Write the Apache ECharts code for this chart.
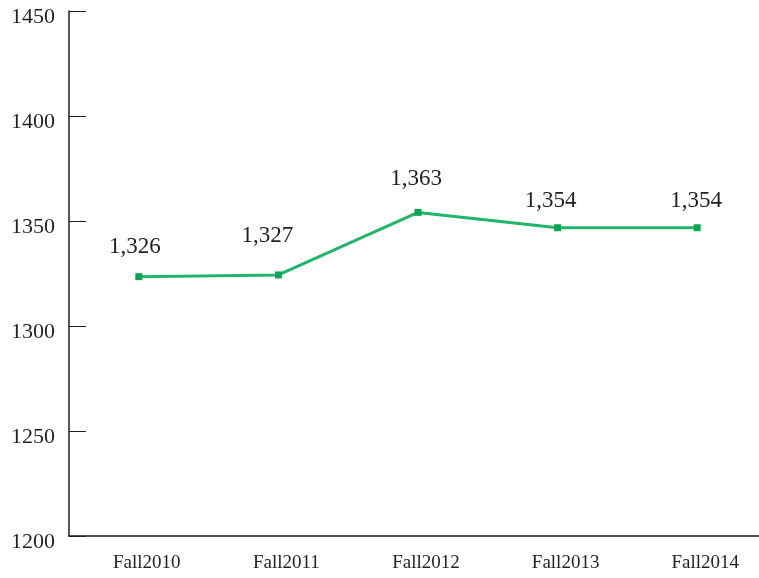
<!DOCTYPE html>
<html>
<head>
<meta charset="utf-8">
<script src="https://cdn.jsdelivr.net/npm/echarts@6/dist/echarts.min.js"></script>
<style>
  html, body { margin: 0; padding: 0; background: #fff; }
  #chart { width: 759px; height: 578px; }
</style>
</head>
<body>
<div id="chart"></div>
<script>
var categories = ['Fall2010', 'Fall2011', 'Fall2012', 'Fall2013', 'Fall2014'];
// where the points sit on the scale in the picture
var values = [1323.5, 1324.3, 1354.1, 1346.8, 1346.8];
// the numbers printed above them
var valueLabels = ['1,326', '1,327', '1,363', '1,354', '1,354'];
var yTicks = [1200, 1250, 1300, 1350, 1400, 1450];

// label nudges (px), style only
var labelNudge = [[-4, 0], [-11, -9], [-2, -3], [-7, 3], [-1, 3]];

var chart = echarts.init(document.getElementById('chart'));
var ink = '#231f20';
var serif = '"Liberation Serif", "DejaVu Serif", serif';

var option = {
    animation: false,
    grid: { left: 69, top: 11, width: 698, height: 525, outerBoundsMode: 'none', containLabel: false },
    xAxis: {
        type: 'category',
        data: categories,
        boundaryGap: true,
        axisLine: { lineStyle: { color: ink, width: 1.5 } },
        axisTick: { inside: true, length: 12, lineStyle: { color: ink, width: 1 } },
        axisLabel: {
            color: ink, fontFamily: serif, fontSize: 19,
            margin: 18, padding: [0, 0, 0, 16]
        },
        splitLine: { show: false }
    },
    yAxis: {
        type: 'value',
        min: yTicks[0],
        max: yTicks[yTicks.length - 1],
        interval: 50,
        axisLine: { show: true, lineStyle: { color: ink, width: 1.5 } },
        axisTick: { show: true, inside: true, length: 17, lineStyle: { color: ink, width: 1 } },
        axisLabel: {
            color: ink, fontFamily: serif, fontSize: 22,
            margin: 14, verticalAlign: 'top', lineHeight: 12,
            formatter: function (v) { return String(v); }
        },
        splitLine: { show: false }
    },
    series: [{
        type: 'line',
        data: values.map(function (v, i) {
            return {
                value: v,
                label: { offset: labelNudge[i] }
            };
        }),
        symbol: 'rect',
        symbolSize: 7,
        itemStyle: { color: '#0ea453' },
        lineStyle: { color: '#23b46b', width: 3 },
        label: {
            show: true,
            position: 'top',
            distance: 15,
            color: ink,
            fontFamily: serif,
            fontSize: 23,
            formatter: function (p) { return valueLabels[p.dataIndex]; }
        }
    }]
};

chart.setOption(option);
</script>
</body>
</html>
